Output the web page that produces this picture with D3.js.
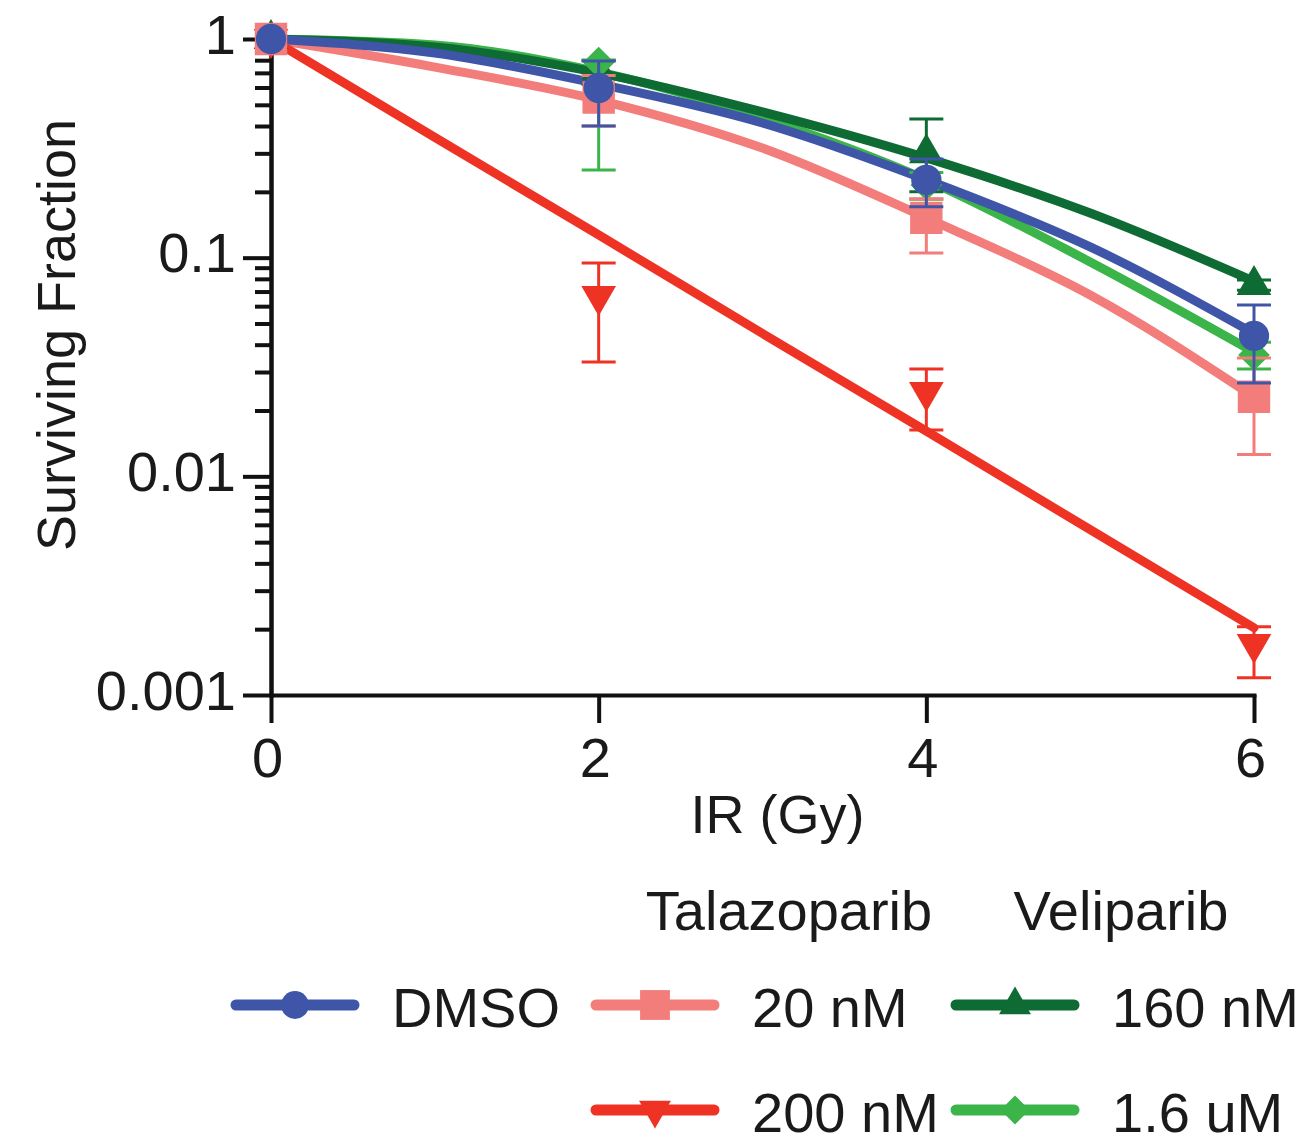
<!DOCTYPE html>
<html>
<head>
<meta charset="utf-8">
<script src="https://cdn.jsdelivr.net/npm/d3@7"></script>
<style>
  html, body { margin: 0; padding: 0; background: #fff; }
  svg { display: block; }
  text { font-family: "Liberation Sans", Arial, sans-serif; fill: #1a1a1a; }
</style>
</head>
<body>
<svg id="chart" width="1310" height="1147"></svg>
<script>
// Clonogenic survival after irradiation, with PARP inhibitors

// measured doses (Gy) and fitted-curve doses
const doses = [0, 2, 4, 6];
const fitDoses = [0, 1, 2, 3, 4, 5, 6];

// DMSO
const dmsoMean = [1, 0.597, 0.227, 0.0439];
const dmsoLo   = [1, 0.40, 0.171, 0.0267];
const dmsoHi   = [1, 0.793, 0.283, 0.0607];
const dmsoFit  = [1, 0.863, 0.623, 0.413, 0.227, 0.112, 0.045];

// Talazoparib 20 nM
const tala20Mean = [1, 0.54, 0.152, 0.0231];
const tala20Lo   = [1, 0.40, 0.105, 0.0126];
const tala20Hi   = [1, 0.68, 0.186, 0.0348];
const tala20Fit  = [1, 0.744, 0.526, 0.317, 0.152, 0.0675, 0.0231];

// Talazoparib 200 nM
const tala200Mean = [1, 0.0668, 0.0243, 0.00171];
const tala200Lo   = [1, 0.0333, 0.0163, 0.0012];
const tala200Hi   = [1, 0.0946, 0.031, 0.00205];
const tala200Fit  = [1, 0.355, 0.127, 0.045, 0.0161, 0.0057, 0.00203];

// Veliparib 160 nM
const veli160Mean = [1, 0.72, 0.30, 0.075];
const veli160Lo   = [1, 0.62, 0.20, 0.071];
const veli160Hi   = [1, 0.80, 0.431, 0.079];
const veli160Fit  = [1, 0.92, 0.70, 0.464, 0.286, 0.160, 0.078];

// Veliparib 1.6 uM
const veli16Mean = [1, 0.78, 0.215, 0.0359];
const veli16Lo   = [1, 0.252, 0.185, 0.031];
const veli16Hi   = [1, 0.80, 0.245, 0.041];
const veli16Fit  = [1, 0.94, 0.707, 0.435, 0.227, 0.0955, 0.037];

// axis ticks
const xTicks = [0, 2, 4, 6];
const yMajorTicks = [0.001, 0.01, 0.1, 1];
const yTickLabels = ["0.001", "0.01", "0.1", "1"];

// legend text
const legendHeaders = ["Talazoparib", "Veliparib"];
const seriesLabels = ["DMSO", "20 nM", "160 nM", "200 nM", "1.6 uM"];

const series = [
  { key: "20 nM",  color: "#f27d7b", shape: "square",  mean: tala20Mean,  lo: tala20Lo,  hi: tala20Hi,  fit: tala20Fit },
  { key: "1.6 uM", color: "#3bb44a", shape: "diamond", mean: veli16Mean,  lo: veli16Lo,  hi: veli16Hi,  fit: veli16Fit },
  { key: "160 nM", color: "#0d6b33", shape: "triUp",   mean: veli160Mean, lo: veli160Lo, hi: veli160Hi, fit: veli160Fit },
  { key: "DMSO",   color: "#3f56a8", shape: "circle",  mean: dmsoMean,    lo: dmsoLo,    hi: dmsoHi,    fit: dmsoFit },
  { key: "200 nM", color: "#ee3224", shape: "triDown", mean: tala200Mean, lo: tala200Lo, hi: tala200Hi, fit: tala200Fit }
];
const byKey = Object.fromEntries(series.map(s => [s.key, s]));
// stacking of the points: first drawn lies underneath
const pointOrder = ["200 nM", "160 nM", "1.6 uM", "20 nM", "DMSO"];

const svg = d3.select("#chart");

const x = d3.scaleLinear().domain([0, 6]).range([271, 1254]);
const y = d3.scaleLog().domain([0.001, 1]).range([695, 39]);

// marker paths
function markerPath(shape, scale = 1) {
  switch (shape) {
    case "circle":  return d3.symbol(d3.symbolCircle, 720 * scale * scale)();
    case "square":  return d3.symbol(d3.symbolSquare, 1050 * scale * scale)();
    case "triUp":   return d3.symbol(d3.symbolTriangle, 520 * scale * scale)();
    case "triDown": return d3.symbol(d3.symbolTriangle, 520 * scale * scale)();
    case "diamond": return d3.symbol(d3.symbolSquare, 500 * scale * scale)();
  }
}
function markerRotate(shape) {
  if (shape === "triDown") return 180;
  if (shape === "diamond") return 45;
  return 0;
}

// axes
const axisG = svg.append("g");

const yMinor = [];
[0.001, 0.01, 0.1].forEach(d => { for (let k = 2; k <= 9; k++) yMinor.push(d * k); });

const yAxisMinor = axisG.append("g")
  .attr("transform", `translate(${x(0)},0)`)
  .call(d3.axisLeft(y).tickValues(yMinor).tickSize(16).tickSizeOuter(0).tickFormat(""));
const yAxis = axisG.append("g")
  .attr("transform", `translate(${x(0)},0)`)
  .call(d3.axisLeft(y).tickValues(yMajorTicks).tickSize(28).tickSizeOuter(0).tickPadding(7)
    .tickFormat((d, i) => yTickLabels[i]));
const xAxis = axisG.append("g")
  .attr("transform", `translate(0,${y(0.001)})`)
  .call(d3.axisBottom(x).tickValues(xTicks).tickSize(28).tickSizeOuter(0).tickPadding(14)
    .tickFormat(d3.format("d")));

[yAxisMinor, yAxis, xAxis].forEach(g => {
  g.selectAll("path.domain").attr("stroke", "#111").attr("stroke-width", 4).attr("stroke-linecap", "square");
  g.selectAll(".tick line").attr("stroke", "#111").attr("stroke-width", 4);
  g.selectAll("text").attr("font-size", 56).attr("fill", "#1a1a1a")
    .attr("font-family", '"Liberation Sans", Arial, sans-serif');
});
yAxis.selectAll("text").attr("dy", "0.25em");
xAxis.selectAll("text").attr("dx", "-0.07em");

// axis titles
svg.append("text")
  .attr("x", (x(0) + x(6)) / 2 + 15).attr("y", 833)
  .attr("text-anchor", "middle").attr("font-size", 54)
  .text("IR (Gy)");
svg.append("text")
  .attr("transform", "translate(75,335) rotate(-90)")
  .attr("text-anchor", "middle").attr("font-size", 54)
  .text("Surviving Fraction");

// fitted curves
const line = d3.line()
  .x((d, i) => x(fitDoses[i]))
  .y(d => y(d))
  .curve(d3.curveMonotoneX);

const curveG = svg.append("g");
series.forEach(s => {
  curveG.append("path")
    .datum(s.fit)
    .attr("d", line)
    .attr("fill", "none")
    .attr("stroke", s.color)
    .attr("stroke-width", 9)
    .attr("stroke-linecap", "round");
});

// error bars and points
const capW = 34;
const pointG = svg.append("g");
pointOrder.map(k => byKey[k]).forEach(s => {
  const g = pointG.append("g");
  doses.forEach((d, i) => {
    if (s.hi[i] === s.lo[i]) return;
    const cx = x(d);
    g.append("line").attr("x1", cx).attr("x2", cx)
      .attr("y1", y(s.lo[i])).attr("y2", y(s.hi[i]))
      .attr("stroke", s.color).attr("stroke-width", 3);
    [s.lo[i], s.hi[i]].forEach(v => {
      g.append("line").attr("x1", cx - capW / 2).attr("x2", cx + capW / 2)
        .attr("y1", y(v)).attr("y2", y(v))
        .attr("stroke", s.color).attr("stroke-width", 3);
    });
  });
  doses.forEach((d, i) => {
    g.append("path")
      .attr("d", markerPath(s.shape))
      .attr("transform", `translate(${x(d)},${y(s.mean[i])}) rotate(${markerRotate(s.shape)})`)
      .attr("fill", s.color);
  });
});

// legend
const legendG = svg.append("g");
legendG.append("text").attr("x", 789).attr("y", 930).attr("text-anchor", "middle")
  .attr("font-size", 56).text(legendHeaders[0]);
legendG.append("text").attr("x", 1121).attr("y", 930).attr("text-anchor", "middle")
  .attr("font-size", 56).text(legendHeaders[1]);

const legendItems = [
  { key: seriesLabels[0], lx: 232, ty: 1005 },
  { key: seriesLabels[1], lx: 592, ty: 1005 },
  { key: seriesLabels[2], lx: 952, ty: 1005 },
  { key: seriesLabels[3], lx: 592, ty: 1110 },
  { key: seriesLabels[4], lx: 952, ty: 1110 }
];
legendItems.forEach(it => {
  const s = byKey[it.key];
  const g = legendG.append("g");
  g.append("line")
    .attr("x1", it.lx + 4).attr("x2", it.lx + 122)
    .attr("y1", it.ty).attr("y2", it.ty)
    .attr("stroke", s.color).attr("stroke-width", 11).attr("stroke-linecap", "round");
  g.append("path")
    .attr("d", markerPath(s.shape, 0.92))
    .attr("transform", `translate(${it.lx + 63},${it.ty}) rotate(${markerRotate(s.shape)})`)
    .attr("fill", s.color);
  g.append("text")
    .attr("x", it.lx + 160).attr("y", it.ty + 22)
    .attr("font-size", 56)
    .text(it.key);
});
</script>
</body>
</html>
